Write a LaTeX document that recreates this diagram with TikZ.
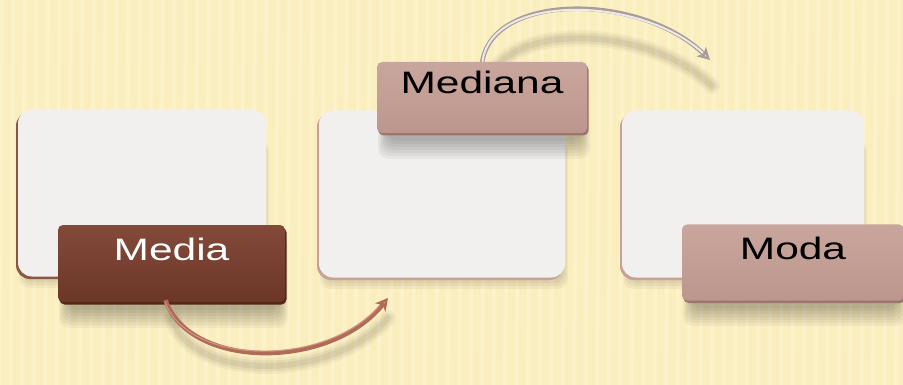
\documentclass[tikz,border=0pt]{standalone}
\usepackage{fontspec}
\setmainfont{Liberation Sans}
\usetikzlibrary{shadows,arrows.meta,calc}
\definecolor{bgcol}{HTML}{FBEEBE}
\definecolor{stripecol}{HTML}{FFF8DA}
\definecolor{facecol}{HTML}{F1F0EE}
\definecolor{rimdark}{HTML}{8A5646}
\definecolor{rimlight}{HTML}{C8A096}
\definecolor{mediatop}{HTML}{834A3A}
\definecolor{mediabot}{HTML}{6C3727}
\definecolor{mediarim}{HTML}{552719}
\definecolor{pinktop}{HTML}{C9A69D}
\definecolor{pinkbot}{HTML}{BC968C}
\definecolor{pinkrim}{HTML}{9C766C}
\definecolor{arrowA}{HTML}{B06A58}
\definecolor{arrowAhi}{HTML}{D89A88}
\definecolor{arrowB}{HTML}{A99D99}
\definecolor{arrowBhi}{HTML}{EEE9E6}
\tikzset{
  card/.style={rounded corners=14pt, fill=facecol, minimum width=#1, minimum height=167pt, inner sep=0pt},
  cardrim/.style={general shadow={fill=#1, shadow xshift=-2pt, shadow yshift=-2.5pt}},
  lbl/.style={rounded corners=5pt, inner sep=0pt, text height=23pt, text depth=30pt,
    font=\fontsize{31}{31}\selectfont},
  medialbl/.style={lbl, top color=mediatop, bottom color=mediabot, text=white,
    general shadow={fill=mediarim, shadow xshift=1.5pt, shadow yshift=-2.5pt}},
  pinklbl/.style={lbl, top color=pinktop, bottom color=pinkbot, text=black,
    general shadow={fill=pinkrim, shadow xshift=1.5pt, shadow yshift=-2.5pt}},
  softshade/.style={fill=black, opacity=0.045, rounded corners=10pt},
}
\newcommand{\wtext}[1]{\scalebox{1.37}[1]{#1}}
% soft shadow under a box: x1 y1 x2 y2 (top-left, bottom-right)
\newcommand{\softbox}[4]{%
  \foreach \k in {0,...,6}{
    \fill[softshade] (#1+10-\k*1.5, #2+14-\k*0.5) rectangle (#3-6+\k*1.5, #4+8+\k*3);
  }%
}
\begin{document}
\begin{tikzpicture}[x=1pt,y=-1pt]
\useasboundingbox (0,0) rectangle (903,385);
% background
\fill[bgcol] (0,0) rectangle (903,385);
\foreach \i in {0,...,80}{
  \fill[stripecol, opacity=0.45] (\i*11.5,0) -- (\i*11.5+4,0) -- (\i*11.5+1,385) -- (\i*11.5-3,385) -- cycle;
}
% card shadows
\softbox{18}{130}{266}{262}
\softbox{319}{130}{565}{263}
\softbox{622}{130}{864}{263}
% cards
\node[card=248pt, cardrim=rimdark] (c1) at (142,193) {};
\node[card=246pt, cardrim=rimlight] (c2) at (442,194) {};
\node[card=242pt, cardrim=rimlight] (c3) at (743,194) {};
% label positions
\coordinate (mediaPos) at (171.5,263.5);
\coordinate (medianaPos) at (482,97.5);
\coordinate (modaPos) at (793,262.5);
% arrow targets
\coordinate (endA) at (388,298);
\coordinate (endB) at (710,60);
% arrow shadows
\foreach \w/\o in {16/0.04,11/0.05,6/0.06}{
  \draw[black, line width=\w pt, opacity=\o, line cap=round]
    (172,318) .. controls (192,382) and (332,382) .. (388,318);
  \draw[black, line width=\w pt, opacity=\o, line cap=round]
    (488,88) .. controls (496,22) and (646,22) .. (712,86);
}
% label shadows
\softbox{58}{225}{285}{302}
\softbox{377}{62}{587}{133}
\softbox{682}{225}{903}{300}
% labels
\node[medialbl, minimum width=227pt, minimum height=77pt] (media) at (mediaPos) {\wtext{Media}};
% arrow A (Media -> card 2)
\draw[arrowA, line width=4.5pt, -{Stealth[length=12pt,width=13pt,inset=3pt,fill=arrowAhi]}]
  ($(media.south)+(-6,-2)$) .. controls (190,370) and (330,370) .. (endA);
\draw[arrowAhi, line width=1.2pt, opacity=0.8]
  ($(media.south)+(-6.5,0)$) .. controls (190,367) and (328,367) .. (380,305);
% arrow B (Mediana -> card 3)
\draw[arrowB, line width=4.5pt, -{Stealth[length=12pt,width=13pt,inset=3pt,fill=arrowBhi]}]
  (482,64) .. controls (490,-8) and (640,-8) .. (endB);
\draw[arrowBhi, line width=2pt]
  (482.5,62) .. controls (490,-6) and (638,-6) .. (703,53);
\node[pinklbl, minimum width=210pt, minimum height=71pt] (mediana) at (medianaPos) {\wtext{Mediana}};
\node[pinklbl, minimum width=222pt, minimum height=76pt] (moda) at (modaPos) {\wtext{Moda}};
\end{tikzpicture}
\end{document}
